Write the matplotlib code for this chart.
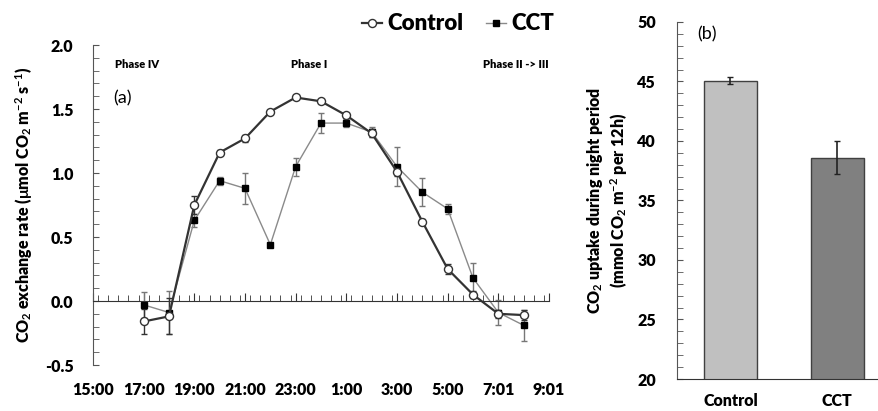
import numpy as np
import matplotlib
matplotlib.use('Agg')
import matplotlib.pyplot as plt
from matplotlib.ticker import MultipleLocator

plt.rcParams['font.family'] = ['Lato', 'DejaVu Sans']
plt.rcParams['mathtext.fontset'] = 'custom'
plt.rcParams['mathtext.rm'] = 'Lato:bold'
plt.rcParams['mathtext.it'] = 'Lato:bold'
plt.rcParams['mathtext.bf'] = 'Lato:bold'

# Данные панели (a): часы с 17:00 до 8:00 следующего дня
hours = np.arange(17, 33)
control = [-0.16, -0.12, 0.75, 1.16, 1.27, 1.48, 1.59, 1.56, 1.45, 1.31, 1.01, 0.62, 0.25, 0.05, -0.10, -0.11]
control_err = [0.10, 0.14, 0.07, 0.02, 0.03, 0.01, 0.01, 0.01, 0.02, 0.03, 0.03, 0.02, 0.04, 0.03, 0.03, 0.04]
cct = [-0.03, -0.09, 0.63, 0.94, 0.88, 0.44, 1.05, 1.39, 1.39, 1.32, 1.05, 0.85, 0.72, 0.18, -0.09, -0.19]
cct_err = [0.10, 0.17, 0.05, 0.03, 0.12, 0.01, 0.07, 0.08, 0.03, 0.04, 0.15, 0.11, 0.04, 0.12, 0.10, 0.12]
tick_pos = np.arange(15, 34, 2)
tick_labels = ['15:00', '17:00', '19:00', '21:00', '23:00', '1:00', '3:00', '5:00', '7:01', '9:01']

# Данные панели (b)
groups = ['Control', 'CCT']
uptake = [45.05, 38.6]
uptake_err = [0.3, 1.4]

fig = plt.figure(figsize=(8.79, 4.11), dpi=100)

# ---- панель (a)
ax = fig.add_axes([93 / 879, 1 - 365 / 411, 456 / 879, 320 / 411])
h_cct = ax.errorbar(hours, cct, yerr=cct_err, color='#8a8a8a', lw=1.0, marker='s', ms=3.8,
                    mfc='black', mec='black', ecolor='#777777', elinewidth=1, capsize=2)
h_ctl = ax.errorbar(hours, control, yerr=control_err, color='#333333', lw=1.6, marker='o', ms=5.8,
                    mfc='white', mec='#333333', mew=1, ecolor='#333333', elinewidth=1, capsize=2)

ax.set_xlim(15, 33)
ax.set_ylim(-0.5, 2.0)
for s in ['top', 'right']:
    ax.spines[s].set_visible(False)
ax.spines['bottom'].set_position(('data', 0))
ax.spines['left'].set_color('#555555')
ax.spines['bottom'].set_color('#333333')
ax.yaxis.set_minor_locator(MultipleLocator(0.1))
ax.set_yticks(np.arange(-0.5, 2.01, 0.5))
ax.set_yticklabels(['%.1f' % v for v in np.arange(-0.5, 2.01, 0.5)], fontweight='heavy', fontsize=11.5)
ax.tick_params(axis='y', which='both', direction='in', length=4, color='#555555', pad=14)
ax.set_xticks(tick_pos)
ax.xaxis.set_minor_locator(MultipleLocator(0.4))
ax.tick_params(axis='x', which='major', direction='in', length=6, labelbottom=False, color='#333333')
ax.tick_params(axis='x', which='minor', direction='in', length=4, color='#333333')

sec = ax.secondary_xaxis('bottom')
sec.set_xticks(tick_pos)
sec.set_xticklabels(tick_labels, fontweight='heavy', fontsize=11.5)
sec.spines['bottom'].set_visible(False)
sec.tick_params(length=0, pad=12)

ax.set_ylabel(r'CO$_2$ exchange rate ($\mu$mol CO$_2$ m$^{-2}$ s$^{-1}$)',
              fontweight='heavy', fontsize=11.5, labelpad=8)

ax.text(0.048, 0.94, 'Phase IV', transform=ax.transAxes, fontsize=8, fontweight='heavy', va='center')
ax.text(0.474, 0.94, 'Phase I', transform=ax.transAxes, fontsize=8, fontweight='heavy', ha='center', va='center')
ax.text(1.0, 0.94, 'Phase II -> III', transform=ax.transAxes, fontsize=8, fontweight='heavy', ha='right', va='center')
ax.text(0.044, 0.834, '(a)', transform=ax.transAxes, fontsize=13, va='center')

# легенда, Control первым, только линия с маркером
leg = fig.legend([h_ctl[0], h_cct[0]], ['Control', 'CCT'], loc='center',
                 bbox_to_anchor=(458 / 879, 1 - 24 / 411), ncol=2, frameon=False, fontsize=16,
                 handlelength=0.9, handletextpad=0.25, columnspacing=1.0, borderpad=0)
for t in leg.get_texts():
    t.set_fontweight('heavy')

# ---- панель (b)
bx = fig.add_axes([677 / 879, 1 - 379 / 411, 202 / 879, 357 / 411])
bx.bar(range(len(groups)), uptake, width=0.5, color=['#c0c0c0', '#808080'],
       edgecolor='#404040', linewidth=1, yerr=uptake_err, capsize=2.5,
       error_kw=dict(ecolor='#222222', elinewidth=1.2))
bx.set_xlim(-0.5, 1.39)
bx.set_ylim(20, 50)
for s in ['top', 'right']:
    bx.spines[s].set_visible(False)
bx.spines['left'].set_color('#555555')
bx.spines['bottom'].set_color('#333333')
bx.yaxis.set_minor_locator(MultipleLocator(1))
bx.set_yticks(np.arange(20, 51, 5))
bx.set_yticklabels([str(v) for v in range(20, 51, 5)], fontweight='heavy', fontsize=11.5)
bx.tick_params(axis='y', which='both', direction='in', length=4, color='#555555', pad=15)
bx.set_xticks(range(len(groups)))
bx.set_xticklabels(groups, fontweight='heavy', fontsize=11.5)
bx.tick_params(axis='x', length=0, pad=10)
bx.set_ylabel('CO$_2$ uptake during night period\n(mmol CO$_2$ m$^{-2}$ per 12h)',
              fontweight='heavy', fontsize=11.5, labelpad=6)
bx.text(0.099, 0.965, '(b)', transform=bx.transAxes, fontsize=13, va='center')

plt.savefig('out.png', dpi=100)
